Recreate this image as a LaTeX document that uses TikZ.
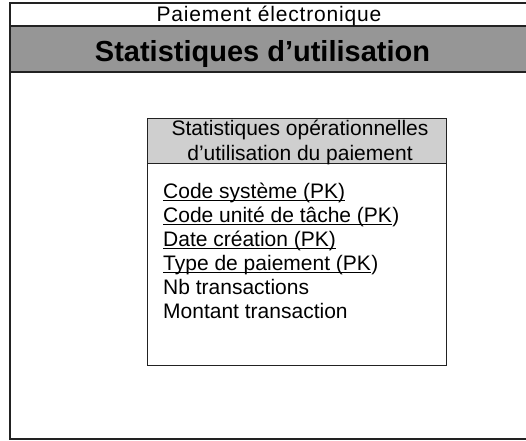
\documentclass[tikz,border=0pt]{standalone}
\usepackage{fontspec}
\setmainfont{Liberation Sans}
\newfontfamily\spacedsans[LetterSpace=4]{Liberation Sans}
\definecolor{bandgray}{HTML}{969696}
\definecolor{headgray}{HTML}{CFCFCF}
\definecolor{framegray}{HTML}{222222}
\begin{document}
\begin{tikzpicture}[x=1pt,y=-1pt,
  frameline/.style={draw=framegray,line width=1.4pt},
  boxline/.style={draw=framegray,line width=1pt},
  subtitle/.style={inner sep=0pt,anchor=base,font=\spacedsans\fontsize{21}{25}\selectfont},
  maintitle/.style={inner sep=0pt,anchor=base,font=\fontsize{29}{34}\bfseries\selectfont},
  headtext/.style={inner sep=0pt,anchor=base,font=\fontsize{21}{24}\selectfont},
  attr/.style={inner sep=0pt,anchor=base west,font=\fontsize{21}{24}\selectfont},
  keyline/.style={draw=black,line width=0.9pt}
]
\useasboundingbox (0,0) rectangle (526,440);
\fill[white] (0,0) rectangle (526,440);

% page frame with its two header bands
\fill[bandgray] (10,26) rectangle (530,72);
\draw[frameline] (10,3) rectangle (530,439);
\draw[frameline] (10,26) -- (530,26);
\draw[frameline] (10,72) -- (530,72);
\node[subtitle] (domain) at (269,21) {Paiement électronique};
\node[maintitle] (title) at (262.5,61) {Statistiques d’utilisation};

% entity box
\fill[headgray] (147,118.5) rectangle (446,163.5);
\draw[boxline] (147,163.5) -- (446,163.5);
\draw[boxline] (147,118.5) rectangle (446,365);
\node[headtext] (head1) at (300,135) {Statistiques opérationnelles};
\node[headtext] (head2) at (300,160) {d’utilisation du paiement};

% attributes; the key parts are underlined (code: 0 none, 1 whole line,
% 2 all but the closing parenthesis)
\foreach \i/\txt/\pk in {0/Code système (PK)/1, 1/Code unité de tâche (PK/2,
    2/Date création (PK)/1, 3/Type de paiement (PK/2,
    4/Nb transactions/0, 5/Montant transaction/0} {
  \ifnum\pk=2
    \node[attr] (a\i) at (163,198+24.1*\i) {\txt};
    \node[attr] (p\i) at (a\i.base east) {)};
  \else
    \node[attr] (a\i) at (163,198+24.1*\i) {\txt};
  \fi
  \ifnum\pk>0
    \draw[keyline] ([yshift=-2.6pt]a\i.base west) -- ([yshift=-2.6pt]a\i.base east);
  \fi
}
\end{tikzpicture}
\end{document}
